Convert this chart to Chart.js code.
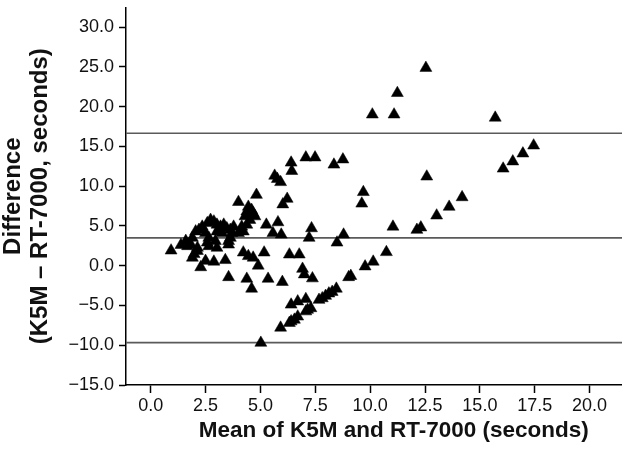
<!DOCTYPE html>
<html><head><meta charset="utf-8">
<script src="https://cdn.jsdelivr.net/npm/chart.js@4.4.1/dist/chart.umd.min.js"></script>
<style>
html,body{margin:0;padding:0;background:#fff;overflow:hidden;width:622px;height:458px}
#wrap{width:669px;height:458px;position:relative}
</style></head>
<body><div id="wrap"><canvas id="c" width="669" height="458"></canvas></div>
<script>
// Mean of K5M and RT-7000 (seconds)
const meanVals = [
  0.93,1.38,1.6,1.68,1.83,1.9,2.05,2.2,2.35,2.58,2.73,2.88,3.02,3.18,3.33,3.47,3.63,
  2.5,2.65,2.58,3.02,3.25,2.95,3.55,3.02,2.13,2.65,3.55,1.98,2.13,1.9,2.5,2.88,3.4,2.28,3.55,
  3.7,3.63,3.78,4.0,4.15,4.22,4.38,4.52,4.0,4.82,4.45,4.6,4.38,4.52,4.67,4.75,4.3,
  5.27,5.8,5.57,5.95,5.65,5.77,5.92,6.4,6.43,7.07,7.49,8.35,8.76,6.22,6.02,9.69,9.62,
  7.33,7.22,8.79,8.49,4.22,4.45,4.67,4.9,5.17,6.32,6.77,6.92,7.0,7.37,4.38,4.6,5.35,6.0,
  5.02,5.92,6.32,6.4,6.55,6.7,6.4,6.7,7.07,7.15,7.3,7.07,7.67,7.82,7.97,8.12,8.27,8.46,
  9.02,9.12,9.77,10.14,10.74,11.04,12.13,12.31,13.03,13.6,14.19,16.06,16.5,16.96,17.45,
  12.58,10.1,11.09,11.24,12.54,15.7
];
// Difference (K5M - RT-7000, seconds)
const diffVals = [
  1.9,2.6,3.1,2.45,2.65,3.5,4.3,4.5,4.9,5.35,5.75,5.55,5.15,4.9,5.15,4.7,4.5,
  4.1,3.5,2.9,4.3,4.1,3.1,3.1,2.25,2.25,2.45,2.65,1.45,1.85,1.0,0.6,0.5,0.7,-0.2,-1.45,
  4.1,3.5,4.9,4.1,4.9,4.3,5.15,5.75,8.0,8.9,7.4,7.0,6.8,6.4,6.6,6.2,6.2,
  5.15,5.45,4.1,3.9,11.3,10.9,10.5,12.95,11.9,13.6,13.6,12.7,13.35,8.4,7.7,9.25,7.8,
  4.7,3.5,3.9,2.9,1.65,1.2,1.0,0.0,1.65,1.4,1.4,-0.4,-1.1,-1.6,-1.65,-2.9,-1.65,-2.05,
  -9.7,-7.8,-7.2,-7.0,-6.8,-6.4,-4.9,-4.5,-5.75,-5.55,-5.35,-4.2,-4.3,-4.1,-3.8,-3.5,-3.3,-2.9,
  -1.45,-1.3,-0.1,0.5,1.7,4.9,4.5,4.8,6.3,7.4,8.6,12.2,13.1,14.1,15.1,
  11.2,19.0,19.0,21.7,24.86,18.6
];
const biasValue = 3.49;
const upperLimit = 16.65;
const lowerLimit = -9.67;
const xTicks = [0, 2.5, 5, 7.5, 10, 12.5, 15, 17.5, 20];
const yTicks = [-15, -10, -5, 0, 5, 10, 15, 20, 25, 30];
const xRange = [-1.124, 23.28];
const yRange = [-15, 32.47];

const points = meanVals.map((m, i) => ({x: m, y: diffVals[i]}));
const hline = v => [{x: xRange[0], y: v}, {x: xRange[1], y: v}];
const lineStyle = {type: 'line', borderColor: '#5a5a5a', borderWidth: 1.7, pointRadius: 0, fill: false, order: 2};
const fmt = v => v.toFixed(1).replace('-', '\u2212');
const txt = '#111';

new Chart(document.getElementById('c'), {
  type: 'scatter',
  data: {
    datasets: [
      {data: points, pointStyle: 'triangle', pointRadius: 6.9, backgroundColor: '#000', borderColor: '#000', borderWidth: 0.5, order: 0},
      Object.assign({data: hline(upperLimit)}, lineStyle),
      Object.assign({data: hline(biasValue)}, lineStyle),
      Object.assign({data: hline(lowerLimit)}, lineStyle)
    ]
  },
  options: {
    responsive: false,
    animation: false,
    devicePixelRatio: 1,
    layout: {padding: 0},
    plugins: {legend: {display: false}, tooltip: {enabled: false}},
    scales: {
      x: {
        type: 'linear', min: xRange[0], max: xRange[1],
        afterBuildTicks: s => { s.ticks = xTicks.map(v => ({value: v})); },
        afterFit: s => { s.height = 73; s.paddingLeft = 0; s.paddingRight = 0; },
        grid: {drawOnChartArea: false, drawTicks: true, tickLength: 8, color: '#000', tickWidth: 1.5},
        border: {display: true, color: '#000', width: 1.5},
        ticks: {padding: 2, color: txt, font: {family: '"Liberation Sans", Arial, sans-serif', size: 18}, callback: v => fmt(v), maxRotation: 0, autoSkip: false},
        title: {display: true, text: 'Mean of K5M and RT-7000 (seconds)', color: txt,
          font: {family: '"Liberation Sans", Arial, sans-serif', size: 22.5, weight: 'bold'}, padding: {top: 0, bottom: 14}}
      },
      y: {
        type: 'linear', min: yRange[0], max: yRange[1],
        afterBuildTicks: s => { s.ticks = yTicks.map(v => ({value: v})); },
        afterFit: s => { s.width = 126; s.paddingTop = 0; s.paddingBottom = 0; },
        grid: {drawOnChartArea: false, drawTicks: true, tickLength: 7, color: '#000', tickWidth: 1.5},
        border: {display: true, color: '#000', width: 1.5},
        ticks: {padding: 5, color: txt, font: {family: '"Liberation Sans", Arial, sans-serif', size: 18}, callback: v => fmt(v), autoSkip: false},
        title: {display: true, text: ['Difference', '(K5M \u2013 RT-7000, seconds)'], color: txt,
          font: {family: '"Liberation Sans", Arial, sans-serif', size: 24, weight: 'bold', lineHeight: 1.12}, padding: {top: 0, bottom: 0}}
      }
    }
  }
});
</script>
</body></html>
